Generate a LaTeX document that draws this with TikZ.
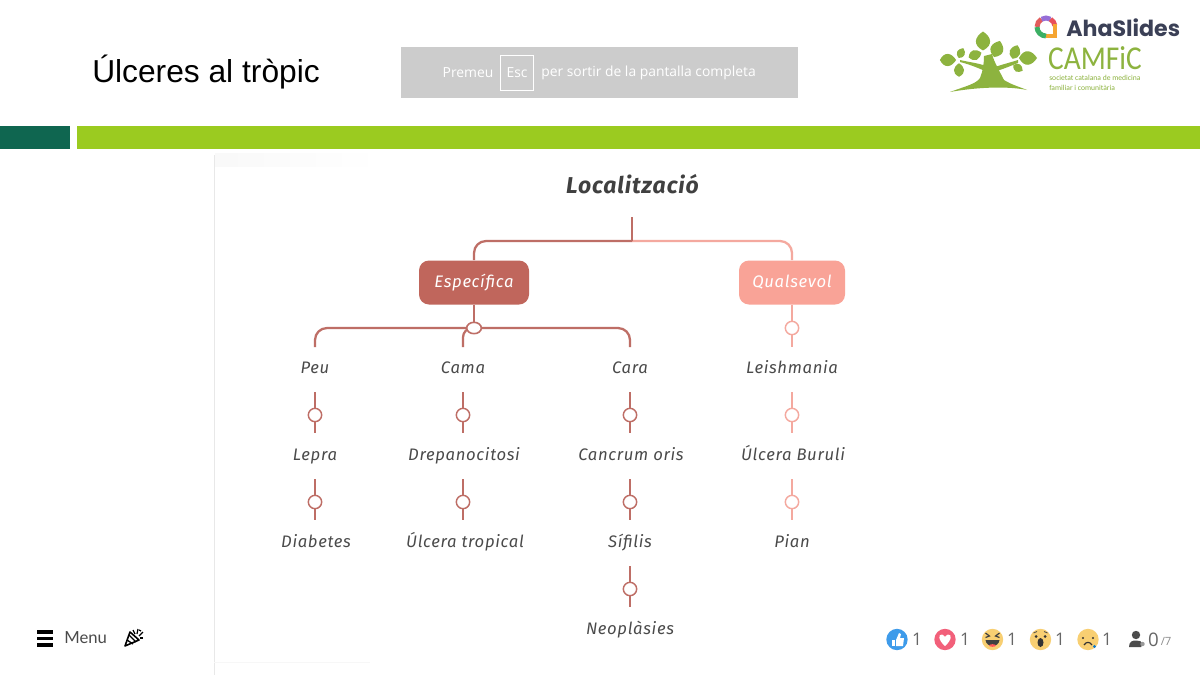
\documentclass[tikz,border=0pt]{standalone}
\usepackage{fontspec}
\setmainfont{Liberation Sans}
\newfontfamily\hand[LetterSpace=4]{Fira Sans}
\newfontfamily\ui{Open Sans}
\newfontfamily\menuf{Lato}
\newfontfamily\aha{Poppins}
\newfontfamily\cam{Carlito}
\usetikzlibrary{calc,shapes.geometric}
\definecolor{espc}{HTML}{C0665C}
\definecolor{qual}{HTML}{F9A397}
\definecolor{lnA}{HTML}{BE6E66}
\definecolor{lnB}{HTML}{F4A99F}
\definecolor{txt}{HTML}{4A4A4A}
\definecolor{leaf}{HTML}{8DB33F}
\definecolor{bar}{HTML}{9BCB20}
\definecolor{dk}{HTML}{0F6650}
\definecolor{face}{HTML}{F8CF72}
\definecolor{slate}{HTML}{3B4056}
\tikzset{
 x=0.75pt,y=-0.75pt,
 lab/.style={font=\hand\itshape\fontsize{12.5}{14}\selectfont,text=txt,inner sep=0pt,anchor=center,text height=9pt,text depth=2.5pt},
 boxA/.style={draw=none,fill=espc,rounded corners=7.5pt,minimum width=82.5pt,minimum height=33pt,text=white,font=\hand\itshape\fontsize{12.5}{14}\selectfont,inner sep=0pt},
 boxB/.style={boxA,fill=qual,minimum width=79.5pt},
 la/.style={draw=lnA,line width=1.7pt},
 lb/.style={draw=lnB,line width=1.7pt},
 ringa/.style={circle,draw=lnA,fill=white,line width=1.1pt,minimum width=10pt,inner sep=0pt},
 ringb/.style={ringa,draw=lnB},
 ct/.style={font=\ui\fontsize{13}{15}\selectfont,text=black!60,inner sep=0pt},
 em/.style={circle,minimum width=16pt,inner sep=0pt},
 lf/.style={fill=leaf,draw=none},
 logo/.style={line width=3.7pt},
}
\begin{document}
\begin{tikzpicture}
\useasboundingbox (0,0) rectangle (1200,675);
\fill[white] (0,0) rectangle (1200,675);
% header
\node[anchor=west,inner sep=0pt,font=\fontsize{23.8}{28}\selectfont] (title) at (92,72) {Úlceres al tròpic};
\node[fill=black!20,minimum width=298pt,minimum height=38pt,inner sep=0pt] (esc) at (599.5,72.5) {};
\node[inner sep=0pt,text=white,font=\ui\fontsize{10.4}{12}\selectfont,anchor=center] (p1) at (468,73) {Premeu};
\node[draw=white,line width=0.5pt,minimum width=25pt,minimum height=26pt,inner sep=0pt,text=white,font=\ui\fontsize{10.4}{12}\selectfont] (p2) at (517,72.5) {Esc};
\node[inner sep=0pt,text=white,font=\ui\fontsize{10.4}{12}\selectfont,anchor=west] (p3) at (541,73) {per sortir de la pantalla completa};
\fill[dk] (0,126) rectangle (70,149);
\fill[bar] (77,126) rectangle (1200,149);
% AhaSlides logo
\node[inner sep=0pt,anchor=west,text=slate,font=\aha\bfseries\fontsize{16.6}{20}\selectfont] (ahat) at (1066,27.5) {AhaSlides};
\draw[logo,color={rgb,255:red,226;green,92;blue,92}] (1046,27) ++(-180:9) arc (-180:-120:9);
\draw[logo,color={rgb,255:red,150;green,110;blue,215}] (1046,27) ++(-120:9) arc (-120:-60:9);
\draw[logo,color={rgb,255:red,232;green,80;blue,90}] (1046,27) ++(-60:9) arc (-60:-10:9);
\draw[logo,color={rgb,255:red,245;green,165;blue,50}] (1055,24) -- (1055,36) -- (1046,36);
\draw[logo,color={rgb,255:red,60;green,175;blue,100}] (1046,27) ++(90:9) arc (90:180:9);
% CAMFiC logo: ground, trunk and arms
\fill[lf] (950,92) .. controls (966,86) and (976,84) .. (980,78) .. controls (983,71) and (984,63) .. (984,56) -- (992,54) .. controls (994,62) and (1000,72) .. (1004,80) .. controls (1012,85) and (1020,87) .. (1027,90) .. controls (1008,86) and (978,87) .. (950,92) -- cycle;
\fill[lf] (960,60) .. controls (968,62) and (978,63) .. (986,66) -- (998,66) .. controls (1004,64) and (1012,62) .. (1018,60) -- (1018,63) .. controls (1010,66) and (1004,69) .. (996,71) -- (985,71) .. controls (976,67) and (968,64) .. (960,62) -- cycle;
\foreach \cx/\cy/\a/\s in {983/41/90/1.05,948/60/0/.9,961/53/65/.6,975/55/20/.75,997/49/70/.95,1015/52/70/.8,1028/58/0/1.0,1018/68/-30/.6,959/70/90/.75}{
 \fill[lf,rotate around={\a:(\cx,\cy)}] (\cx-9*\s,\cy) .. controls (\cx-4*\s,\cy-10*\s) and (\cx+4*\s,\cy-8*\s) .. (\cx+9*\s,\cy) .. controls (\cx+4*\s,\cy+8*\s) and (\cx-4*\s,\cy+10*\s) .. (\cx-9*\s,\cy) -- cycle;
}
\node[inner sep=0pt,anchor=west,text=leaf,font=\cam\fontsize{25}{25}\selectfont,xscale=.88] (camt) at (1048,58) {CAMFiC};
\node[inner sep=0pt,anchor=west,text=leaf,font=\cam\fontsize{5.7}{7}\selectfont] (cam1) at (1049,78) {societat catalana de medicina};
\node[inner sep=0pt,anchor=west,text=leaf,font=\cam\fontsize{5.7}{7}\selectfont] (cam2) at (1049,88) {familiar i comunitària};
% embedded picture edge
\shade[left color=black!2.5,right color=white] (215,153) rectangle (380,166);
\draw[black!9,line width=.7pt] (214,155) -- (214,675);
\draw[black!3,line width=.7pt] (214,662) -- (370,662);
% tree
\node[inner sep=0pt,font=\hand\itshape\bfseries\fontsize{17.2}{20}\selectfont,text=black!75] (loc) at (632.5,184) {Localització};
\node[boxA] (esp) at (474,282.5) {Específica};
\node[boxB] (qua) at (792,282.5) {Qualsevol};
\coordinate (top) at (632,217);
\coordinate (jn) at (632,241);
\draw[lb,rounded corners=9pt] (jn) -| (qua.north);
\draw[la,rounded corners=9pt] (jn) -| (esp.north);
\draw[la] (top) -- (jn);
% Second level
\node[lab] (peu) at (315,369.5) {Peu};
\node[lab] (cama) at (463,369.5) {Cama};
\node[lab] (cara) at (630,369.5) {Cara};
\coordinate (peuT) at (315,347);
\coordinate (camaT) at (463,347);
\coordinate (caraT) at (630,347);
\coordinate (r0c) at (474,328);
\draw[la,rounded corners=9pt] (r0c) -| (peuT);
\draw[la,rounded corners=7pt] (r0c) -| (camaT);
\draw[la,rounded corners=9pt] (r0c) -| (caraT);
\node[ellipse,draw=lnA,fill=white,line width=1.2pt,minimum width=11pt,minimum height=8.5pt,inner sep=0pt] (r0) at (r0c) {};
\draw[la] (esp.south) -- (r0.north);
% Qualsevol column
\coordinate (leiT) at (792,347);
\draw[lb] (qua.south) -- (leiT);
\node[ringb] (r1) at (792,328) {};
\node[lab] (lei) at (792,369.5) {Leishmania};
% Leaves
\node[lab] (lepra) at (315,456.5) {Lepra};
\node[lab] (diab) at (316,543) {Diabetes};
\node[lab] (drep) at (464,456.5) {Drepanocitosi};
\node[lab] (utrop) at (465,543) {Úlcera tropical};
\node[lab] (canc) at (631,456.5) {Cancrum oris};
\node[lab] (sif) at (630,543) {Sífilis};
\node[lab] (neo) at (630,630.5) {Neoplàsies};
\node[lab] (buru) at (793,456.5) {Úlcera Buruli};
\node[lab] (pian) at (792,543) {Pian};
\foreach \nm/\xx/\yy/\st in {a/315/415/la,b/315/502/la,c/463/415/la,d/463/502/la,e/630/415/la,f/630/502/la,g/630/589/la,h/792/415/lb,i/792/502/lb}{
 \coordinate (t\nm) at (\xx,\yy-23);
 \coordinate (u\nm) at (\xx,\yy+18);
 \draw[\st,line width=1.5pt] (t\nm) -- (u\nm);
}
\foreach \nm/\xx/\yy in {a/315/415,b/315/502,c/463/415,d/463/502,e/630/415,f/630/502,g/630/589}{\node[ringa] (c\nm) at (\xx,\yy) {};}
\foreach \nm/\xx/\yy in {h/792/415,i/792/502}{\node[ringb] (c\nm) at (\xx,\yy) {};}
% footer left
\foreach \yy in {632,638.5,645}{\fill[black] (37,\yy-1.8) rectangle (53,\yy+1.8);}
\node[inner sep=0pt,anchor=west,text=txt,font=\menuf\fontsize{12.5}{14}\selectfont] (menu) at (64,637.5) {Menu};
\draw[black,line width=1.2pt,line join=round,fill=white] (125,646) -- (130,632) -- (139,640) -- cycle;
\draw[black,line width=1pt] (127,640) -- (133,644) (129,635) -- (136,642);
\foreach \a/\b/\c/\d in {133/630/135/634,138/629/137/634,143/632/139/636,143/638/140/638,139/630/141/631}{\draw[black,line width=.9pt] (\a,\b) -- (\c,\d);}
% reactions
\node[em,fill={rgb,255:red,62;green,155;blue,234}] (e1) at (897,639.5) {};
\fill[white] (892,640) rectangle (895,646);
\fill[white] (896,640) -- (899,633) -- (901,634) -- (900,638) -- (904,638) -- (903,646) -- (896,646) -- cycle;
\node[ct] (n1) at (917,639.5) {1};
\node[em,fill={rgb,255:red,242;green,96;blue,122}] (e2) at (945,639.5) {};
\fill[white] (945,646) .. controls (938,640) and (938,634) .. (942,634.5) .. controls (944,635) and (945,637) .. (945,637) .. controls (945,637) and (946,635) .. (948,634.5) .. controls (952,634) and (952,640) .. (945,646) -- cycle;
\node[ct] (n2) at (965,639.5) {1};
\node[em,fill=face] (e3) at (992.5,639.5) {};
\fill[black!75] (985.5,640) -- (999.5,640) .. controls (998.5,648) and (986.5,648) .. (985.5,640) -- cycle;
\fill[red!55!pink] (992.5,645.5) ellipse [x radius=3.5,y radius=1.3];
\draw[black!75,line width=.9pt] (985.5,633) -- (989.5,636) -- (985.5,637.5) (999.5,633) -- (995.5,636) -- (999.5,637.5);
\node[ct] (n3) at (1012,639.5) {1};
\node[em,fill=face] (e4) at (1040.5,639.5) {};
\fill[black!80] (1040.5,642.5) ellipse [x radius=3,y radius=4.5];
\fill[black!80] (1036,636.5) circle [radius=1.5] (1045,636.5) circle [radius=1.5];
\draw[black!70,line width=.6pt] (1033.5,633) -- (1037,631.5) (1047.5,633) -- (1044,631.5);
\node[ct] (n4) at (1060,639.5) {1};
\node[em,fill=face] (e5) at (1088,639.5) {};
\fill[black!80] (1083,638) circle [radius=1.2] (1093,638) circle [radius=1.2];
\draw[black!80,line width=.9pt] (1084,645) .. controls (1086,641.5) and (1090,641.5) .. (1092,645);
\fill[cyan!60!blue] (1094.5,646.5) circle [radius=1.7];
\node[ct] (n5) at (1107,639.5) {1};
\fill[black!70] (1136,635) circle [radius=4.2];
\fill[black!70] (1129,647) .. controls (1129,641) and (1133,640.5) .. (1136,640.5) .. controls (1139,640.5) and (1142,641) .. (1143,644) -- (1141,647) -- cycle;
\fill[black!40] (1142.5,644) circle [radius=2.2];
\node[inner sep=0pt,text=black!60,font=\ui\fontsize{14}{16}\selectfont] (cnt) at (1153.5,639.5) {0};
\node[inner sep=0pt,anchor=west,text=black!45,font=\ui\fontsize{8.5}{10}\selectfont] (cnt2) at (1160.5,641) {/7};
\end{tikzpicture}
\end{document}
